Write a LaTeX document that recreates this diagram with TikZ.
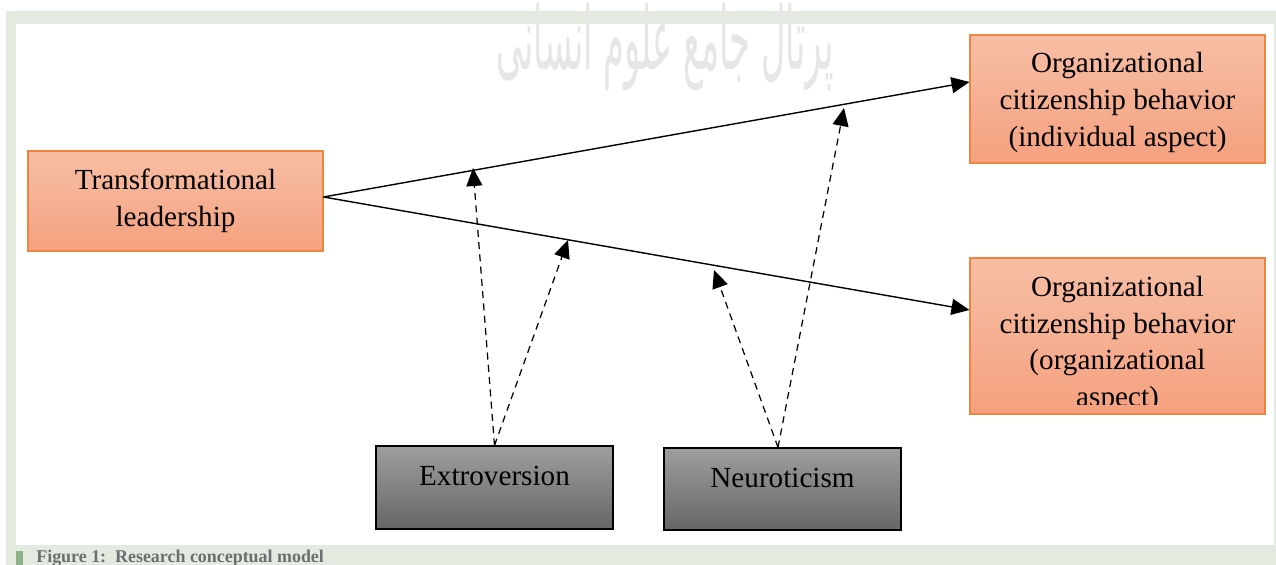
\documentclass[tikz,border=0pt]{standalone}
\usepackage{fontspec}
\setmainfont{Liberation Serif}
\newfontfamily\arabicfont[Script=Arabic]{DejaVu Sans}
\TeXXeTstate=1
\usetikzlibrary{arrows.meta}
\definecolor{bandgreen}{HTML}{E3EBE1}
\definecolor{bargreen}{HTML}{8DB08D}
\definecolor{capgray}{HTML}{6E6E6E}
\definecolor{marklight}{HTML}{E6E6E6}
\definecolor{orangetop}{HTML}{F7BEA5}
\definecolor{orangebot}{HTML}{F5A17F}
\definecolor{orangeline}{HTML}{F0843F}
\tikzset{
	orangebox/.style={rectangle, draw=orangeline, line width=0.6pt, top color=orangetop, bottom color=orangebot, minimum width=5.9cm, inner sep=0pt, align=center},
	graybox/.style={rectangle, draw=black, line width=0.7pt, top color=black!38, bottom color=black!60, minimum width=4.74cm, inner sep=0pt},
	boxtext/.style={font=\fontsize{16.6}{20.8}\selectfont, align=center, inner sep=0pt},
	solidarrow/.style={line width=0.8pt, -{Triangle[length=0.36cm,width=0.32cm]}},
	dasharrow/.style={line width=0.7pt, dash pattern=on 4pt off 3pt, -{Triangle[length=0.36cm,width=0.32cm]}}
}

\begin{document}
\begin{tikzpicture}[line cap=butt, line join=miter]
	\useasboundingbox (0,0) rectangle (25.52,11.3);
	% Page band
	\fill[bandgreen] (0.12,0) rectangle (25.52,11.08);
	\fill[white] (0.32,0.4) rectangle (25.48,10.82);
	\fill[bargreen] (0.32,0) rectangle (0.46,0.28);
	\node[anchor=base west, inner sep=0pt, text=capgray, font=\fontsize{10.2}{12}\selectfont\bfseries] (caption) at (0.72,0.04) {Figure 1:\enspace Research conceptual model};
	% Watermark
	\node[text=marklight, inner sep=0pt, font=\fontsize{33}{36}\selectfont\arabicfont, transform shape, xscale=0.58, yscale=1.5] (mark) at (13.3,10.35) {\beginR پرتال جامع علوم انسانی\endR};

	% Left box
	\node[orangebox, boxtext, minimum height=2cm] (leader) at (3.51,7.28) {Transformational\\leadership};
	% Right boxes
	\node[orangebox, minimum height=2.56cm] (indiv) at (22.35,9.32) {};
	\node[boxtext] (indivtext) at (22.35,9.25) {Organizational\\citizenship behavior\\(individual aspect)};
	\node[orangebox, minimum height=3.12cm] (organ) at (22.35,4.58) {};
	\begin{scope}
		\clip ([yshift=0.2cm]organ.south west) rectangle (organ.north east);
		\node[boxtext] (organtext) at (22.35,4.41) {Organizational\\citizenship behavior\\(organizational\\aspect)};
	\end{scope}
	% Bottom boxes
	\node[graybox, boxtext, minimum height=1.66cm, text height=0.3cm, text depth=0.37cm] (extro) at (9.89,1.55) {Extroversion};
	\node[graybox, boxtext, minimum height=1.64cm, text height=0.3cm, text depth=0.37cm] (neuro) at (15.65,1.52) {Neuroticism};

	% Arrow tips on the main lines
	\coordinate (tipa) at (9.46,7.94);
	\coordinate (tipb) at (11.36,6.5);
	\coordinate (tipc) at (14.28,5.9);
	\coordinate (tipd) at (16.88,9.14);

	% Main lines
	\draw[solidarrow] ([yshift=0.08cm]leader.east) -- ([yshift=0.34cm]indiv.west);
	\draw[solidarrow] ([yshift=0.08cm]leader.east) -- ([yshift=0.52cm]organ.west);
	% Dashed lines
	\draw[dasharrow] (extro.north) -- (tipa);
	\draw[dasharrow] (extro.north) -- (tipb);
	\draw[dasharrow] ([xshift=-0.09cm]neuro.north) -- (tipc);
	\draw[dasharrow] ([xshift=-0.09cm]neuro.north) -- (tipd);
\end{tikzpicture}
\end{document}
